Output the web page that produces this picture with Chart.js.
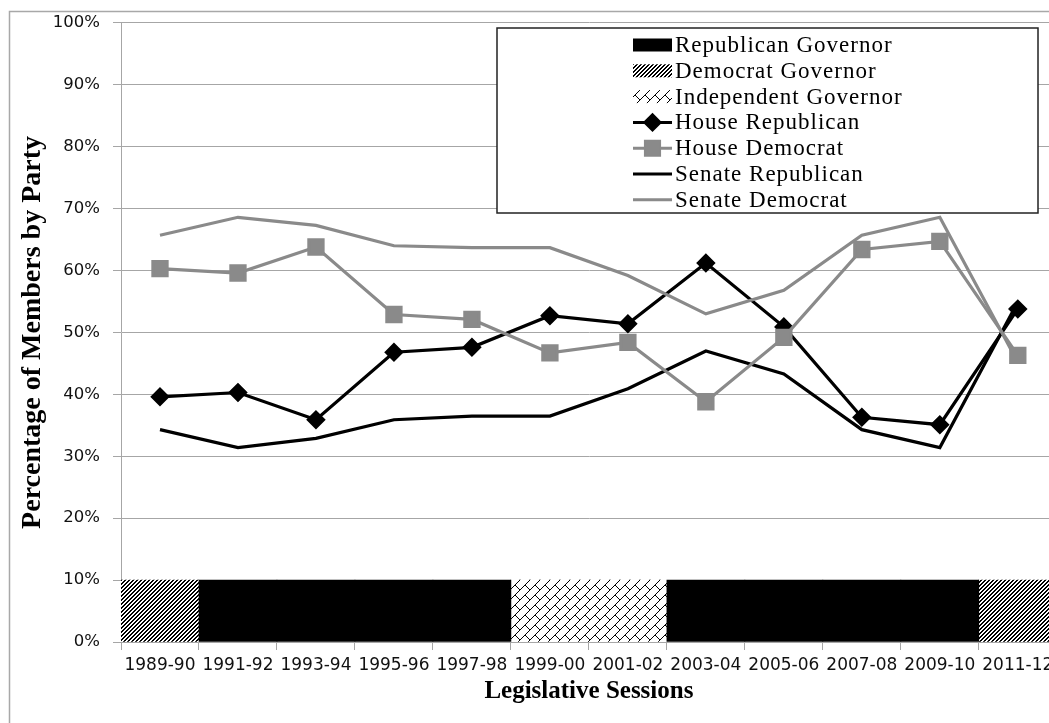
<!DOCTYPE html>
<html>
<head>
<meta charset="utf-8">
<script src="https://cdn.jsdelivr.net/npm/chart.js@4/dist/chart.umd.min.js"></script>
<style>
  html, body { margin: 0; padding: 0; overflow: hidden; background: #fff; }
  canvas { display: block; }
</style>
</head>
<body>
<canvas id="chart" width="1070" height="723"></canvas>
<script>
// Sessions on the x axis
const sessions = ['1989-90', '1991-92', '1993-94', '1995-96', '1997-98', '1999-00',
                  '2001-02', '2003-04', '2005-06', '2007-08', '2009-10', '2011-12'];

// Percentage of members by party
const houseRep  = [39.6, 40.3, 35.9, 46.8, 47.6, 52.7, 51.4, 61.2, 50.9, 36.3, 35.1, 53.8];
const houseDem  = [60.3, 59.6, 63.8, 52.9, 52.1, 46.7, 48.4, 38.8, 49.2, 63.4, 64.7, 46.3];
const senateRep = [34.3, 31.4, 32.9, 35.9, 36.5, 36.5, 40.9, 47.0, 43.3, 34.3, 31.4, 54.9];
const senateDem = [65.7, 68.6, 67.3, 64.0, 63.7, 63.7, 59.2, 53.0, 56.8, 65.7, 68.6, 45.2];

// Governor's party per session, shown as a 10% band along the bottom
const govParty = ['D', 'R', 'R', 'R', 'R', 'I', 'I', 'R', 'R', 'R', 'R', 'D'];
const govBand = 10;

const yTicks = [0, 10, 20, 30, 40, 50, 60, 70, 80, 90, 100];

const GRAY = '#8a8a8a';
const GRID = '#a6a6a6';

// Fill patterns for the governor bands
function makePattern(size, isInk) {
    const c = document.createElement('canvas');
    c.width = size; c.height = size;
    const g = c.getContext('2d');
    g.fillStyle = '#fff';
    g.fillRect(0, 0, size, size);
    g.fillStyle = '#000';
    for (let x = 0; x < size; x++) {
        for (let y = 0; y < size; y++) {
            if (isInk(x, y)) g.fillRect(x, y, 1, 1);
        }
    }
    return g.createPattern(c, 'repeat');
}
const ctx = document.getElementById('chart').getContext('2d');
const stripes = makePattern(4, (x, y) => (x + y) % 4 < 2);
const bricks = makePattern(10, (x, y) => (x + y === 9) || (x >= 5 && x === y));

const bandData = p => govParty.map(g => g === p ? govBand : null);

// White page with the light frame around the chart
const framePlugin = {
    id: 'frame',
    beforeDraw(chart) {
        const c = chart.ctx;
        c.save();
        c.fillStyle = '#fff';
        c.fillRect(0, 0, chart.width, chart.height);
        c.strokeStyle = '#a8a8a8';
        c.lineWidth = 1.5;
        c.strokeRect(9.5, 11.5, 2000, 2000);
        c.restore();
    }
};

// Boxed legend in the upper right, like the original
const legendPlugin = {
    id: 'boxLegend',
    afterDraw(chart) {
        const c = chart.ctx;
        const box = { x: 497, y: 28, w: 541, h: 185 };
        c.save();
        c.fillStyle = '#fff';
        c.fillRect(box.x, box.y, box.w, box.h);
        c.strokeStyle = '#222';
        c.lineWidth = 1.5;
        c.strokeRect(box.x, box.y, box.w, box.h);

        const sx = 633, ex = 672, tx = 675;
        chart.data.datasets.forEach((ds, row) => {
            const cy = 45 + row * 25.8;
            if (ds.type === 'bar') {
                c.fillStyle = ds.backgroundColor;
                c.fillRect(sx, cy - 6.5, ex - sx, 13);
            } else {
                c.strokeStyle = ds.borderColor;
                c.lineWidth = 3;
                c.beginPath();
                c.moveTo(sx, cy);
                c.lineTo(ex, cy);
                c.stroke();
                if (ds.pointRadius > 0) {
                    Chart.helpers.drawPoint(c, {
                        pointStyle: ds.pointStyle,
                        radius: ds.pointRadius,
                        borderWidth: 1
                    }, (sx + ex) / 2, cy);
                    c.fillStyle = ds.pointBackgroundColor;
                    c.strokeStyle = ds.pointBorderColor;
                    c.fill();
                }
            }
            c.fillStyle = '#000';
            c.font = '23px "Liberation Serif", "Times New Roman", serif';
            c.letterSpacing = '1px';
            c.textBaseline = 'middle';
            c.textAlign = 'left';
            c.fillText(ds.label, tx, cy + 1);
        });
        c.restore();
    }
};

new Chart(ctx, {
    type: 'bar',
    data: {
        labels: sessions,
        datasets: [
            { type: 'bar', label: 'Republican Governor', data: bandData('R'),
              backgroundColor: '#000', order: 2 },
            { type: 'bar', label: 'Democrat Governor', data: bandData('D'),
              backgroundColor: stripes, order: 2 },
            { type: 'bar', label: 'Independent Governor', data: bandData('I'),
              backgroundColor: bricks, order: 2 },
            { type: 'line', label: 'House Republican', data: houseRep,
              borderColor: '#000', borderWidth: 3.2, pointStyle: 'rectRot', pointRadius: 7.5,
              pointBackgroundColor: '#000', pointBorderColor: '#000', order: 1 },
            { type: 'line', label: 'House Democrat', data: houseDem,
              borderColor: GRAY, borderWidth: 3.2, pointStyle: 'rect', pointRadius: 10,
              pointBackgroundColor: GRAY, pointBorderColor: GRAY, order: 0 },
            { type: 'line', label: 'Senate Republican', data: senateRep,
              borderColor: '#000', borderWidth: 3.2, pointRadius: 0, order: 1 },
            { type: 'line', label: 'Senate Democrat', data: senateDem,
              borderColor: GRAY, borderWidth: 3.2, pointRadius: 0, order: 0 }
        ]
    },
    options: {
        responsive: false,
        animation: false,
        devicePixelRatio: 1,
        layout: { padding: { left: 16, top: 13, right: 13, bottom: 16 } },
        datasets: {
            bar: { barPercentage: 1, categoryPercentage: 1, grouped: false, borderWidth: 0 }
        },
        plugins: {
            legend: { display: false },
            tooltip: { enabled: false }
        },
        scales: {
            x: {
                offset: true,
                grid: { offset: true, drawOnChartArea: false, tickLength: 8, color: GRID },
                border: { color: GRID },
                ticks: {
                    color: '#111', padding: 5, maxRotation: 0, autoSkip: false,
                    font: { family: '"DejaVu Sans", Verdana, sans-serif', size: 17 }
                },
                title: {
                    display: true, text: 'Legislative Sessions', color: '#000',
                    padding: { top: 2, bottom: 0 },
                    font: { family: '"Liberation Serif", "Times New Roman", serif', size: 25, weight: 'bold' }
                },
                afterFit(s) { s.height = 65; }
            },
            y: {
                min: 0, max: 100,
                afterBuildTicks(s) { s.ticks = yTicks.map(v => ({ value: v })); },
                grid: { tickLength: 8, color: GRID },
                border: { color: GRID },
                ticks: {
                    color: '#111', padding: 13,
                    callback: v => v + '%',
                    font: { family: '"DejaVu Sans", Verdana, sans-serif', size: 16.5 }
                },
                title: {
                    display: true, text: 'Percentage of Members by Party', color: '#000',
                    padding: 0,
                    font: { family: '"Liberation Serif", "Times New Roman", serif', size: 28, weight: 'bold' }
                },
                afterFit(s) { s.width = 105; }
            }
        }
    },
    plugins: [framePlugin, legendPlugin]
});
</script>
</body>
</html>
